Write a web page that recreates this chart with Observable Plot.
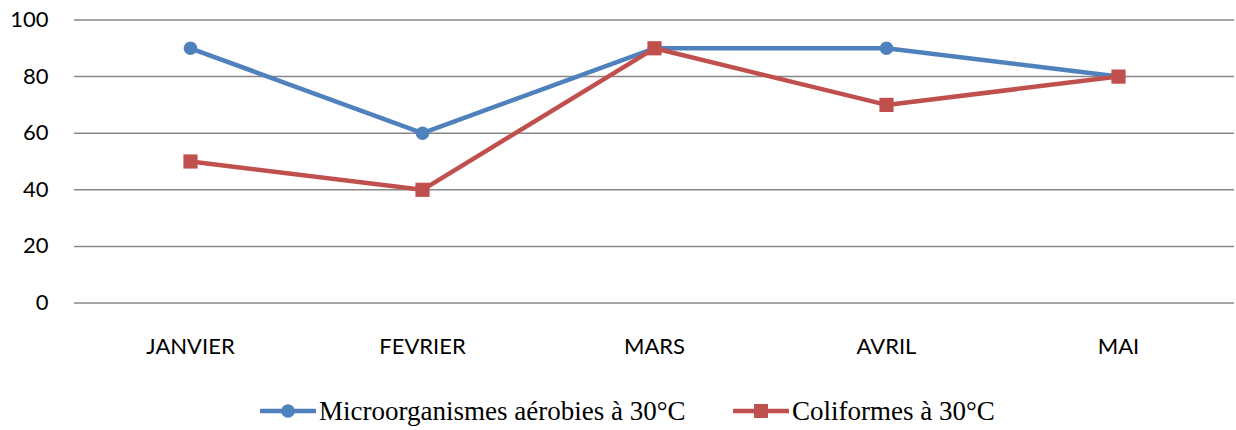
<!DOCTYPE html>
<html>
<head>
<meta charset="utf-8">
<script src="https://cdn.jsdelivr.net/npm/d3@7"></script>
<script src="https://cdn.jsdelivr.net/npm/@observablehq/plot@0.6"></script>
<style>
  html, body { margin: 0; padding: 0; background: white; }
  #wrap { position: relative; width: 1236px; height: 430px; }
  #legend { position: absolute; top: 380px; left: 0; width: 1236px; height: 50px; font-family: "Liberation Serif", "Times New Roman", serif; font-size: 27px; color: #000; }
  .item { position: absolute; top: 14px; display: flex; align-items: center; height: 34px; white-space: nowrap; }
  .item svg { margin-right: 3px; }
</style>
</head>
<body>
<div id="wrap">
  <div id="chart"></div>
  <div id="legend"></div>
</div>
<script>
const categories = ["JANVIER", "FEVRIER", "MARS", "AVRIL", "MAI"];
const microorganismes = [90, 60, 90, 90, 80];
const coliformes = [50, 40, 90, 70, 80];
const yTicks = [0, 20, 40, 60, 80, 100];
const seriesNames = ["Microorganismes aérobies à 30°C", "Coliformes à 30°C"];
const colors = ["#4F81BD", "#C0504D"];

const dataA = categories.map((c, i) => ({cat: c, value: microorganismes[i]}));
const dataB = categories.map((c, i) => ({cat: c, value: coliformes[i]}));

const chart = Plot.plot({
  width: 1236,
  height: 380,
  marginLeft: 74,
  marginRight: 2,
  marginTop: 19.5,
  marginBottom: 77.5,
  x: {type: "point", domain: categories, padding: 0.5, label: null},
  y: {domain: [0, 100], label: null},
  style: {fontFamily: "Lato, 'Open Sans', sans-serif", fontSize: "22px", color: "#000", background: "white"},
  marks: [
    Plot.gridY(yTicks, {stroke: "#878787", strokeOpacity: 1, strokeWidth: 1.5}),
    Plot.axisY({ticks: yTicks, tickSize: 0, tickPadding: 26, label: null}),
    Plot.axisX({tickSize: 0, tickPadding: 35, label: null}),
    Plot.line(dataA, {x: "cat", y: "value", stroke: colors[0], strokeWidth: 4.5}),
    Plot.dot(dataA, {x: "cat", y: "value", r: 6.8, fill: colors[0], symbol: "circle"}),
    Plot.line(dataB, {x: "cat", y: "value", stroke: colors[1], strokeWidth: 4.5}),
    Plot.dot(dataB, {x: "cat", y: "value", r: 8, fill: colors[1], symbol: "square"})
  ]
});
document.getElementById("chart").appendChild(chart);

const legend = document.getElementById("legend");
const lefts = [260, 733];
seriesNames.forEach((name, i) => {
  const item = document.createElement("div");
  item.className = "item";
  item.style.left = lefts[i] + "px";
  const marker = i === 0
    ? `<circle cx="28" cy="8" r="6.8" fill="${colors[i]}"/>`
    : `<rect x="21" y="1" width="14" height="14" fill="${colors[i]}"/>`;
  item.innerHTML = `<svg width="56" height="16"><line x1="1" x2="55" y1="8" y2="8" stroke="${colors[i]}" stroke-width="4.5" stroke-linecap="round"/>${marker}</svg><span>${name}</span>`;
  legend.appendChild(item);
});
</script>
</body>
</html>
